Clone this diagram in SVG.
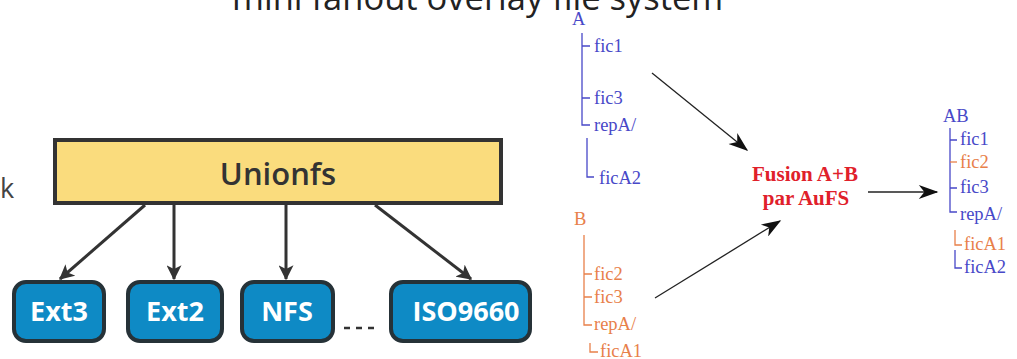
<svg xmlns="http://www.w3.org/2000/svg" width="1017" height="359" viewBox="0 0 1017 359">
<defs>
<style>
.title{font-family:"Open Sans","DejaVu Sans",sans-serif;font-size:34.5px;fill:#222}
.ubox{fill:#FADC7D;stroke:#333;stroke-width:4}
.utxt{font-family:"Open Sans","DejaVu Sans",sans-serif;font-size:31px;font-weight:600;fill:#333;text-anchor:middle}
.fbox{fill:#0E8AC5;stroke:#263238;stroke-width:4}
.ftxt{font-family:"Open Sans","DejaVu Sans",sans-serif;font-size:27px;font-weight:700;fill:#fff;text-anchor:middle}
.conn{stroke:#333;stroke-width:3;fill:none;marker-end:url(#ah)}
.thin{stroke:#222;stroke-width:1.3;fill:none;marker-end:url(#ah2)}
.tb{font-family:"Liberation Serif","Times New Roman",serif;font-size:18.5px;fill:#4848C8}
.to{font-family:"Liberation Serif","Times New Roman",serif;font-size:18.5px;fill:#E8804A}
.lb{stroke:#4848C8;stroke-width:1.3;fill:none}
.lo{stroke:#E8804A;stroke-width:1.3;fill:none}
.fus{font-family:"Liberation Serif","Times New Roman",serif;font-size:21px;font-weight:700;fill:#E0202A;text-anchor:middle}
</style>
<marker id="ah" viewBox="0 0 12 12" refX="11" refY="6" markerWidth="5" markerHeight="5" orient="auto" markerUnits="strokeWidth">
<path d="M0,0 L12,6 L0,12 L3,6 Z" fill="#333"/>
</marker>
<marker id="ah2" viewBox="0 0 14 10" refX="13" refY="5" markerWidth="22" markerHeight="14" orient="auto" markerUnits="userSpaceOnUse">
<path d="M0,0 L14,5 L0,10 L4,5 Z" fill="#111"/>
</marker>
</defs>
<rect width="1017" height="359" fill="#fff"/>
<text class="title" x="232" y="10">mini fanout overlay file system</text>
<text x="0" y="198" style="font-family:'Open Sans','DejaVu Sans',sans-serif;font-size:27px;fill:#444">k</text>

<g id="connectors">
<path class="conn" d="M145,205 L60,279"/>
<path class="conn" d="M174,205 L174,279"/>
<path class="conn" d="M286,205 L286,279"/>
<path class="conn" d="M375,205 L471,279"/>
<path class="thin" d="M652,73 L747,150"/>
<path class="thin" d="M655,298 L780,221"/>
<path class="thin" d="M868,192 L937,192"/>
</g>

<g id="unionfs">
<rect class="ubox" x="55" y="140" width="446" height="63"/>
<text class="utxt" x="278" y="185">Unionfs</text>
</g>
<g id="ext3">
<rect class="fbox" x="14" y="282" width="90" height="59" rx="12"/>
<text class="ftxt" x="59" y="321">Ext3</text>
</g>
<g id="ext2">
<rect class="fbox" x="128" y="282" width="94" height="59" rx="12"/>
<text class="ftxt" x="175" y="321">Ext2</text>
</g>
<g id="nfs">
<rect class="fbox" x="242" y="282" width="91" height="59" rx="12"/>
<text class="ftxt" x="287" y="321">NFS</text>
</g>
<g id="iso9660">
<rect class="fbox" x="391" y="282" width="139" height="59" rx="12"/>
<text class="ftxt" x="466" y="321">ISO9660</text>
</g>
<g id="dots">
<path d="M344,328 h6 M356,328 h6 M368,328 h6" stroke="#333" stroke-width="2.5"/>
</g>

<g id="treeA">
<text class="tb" x="572" y="25">A</text>
<path class="lb" d="M582,33 V125 H590 M582,46 H590 M582,98 H590 M587,138 V177 H594"/>
<text class="tb" x="594" y="52">fic1</text>
<text class="tb" x="594" y="104">fic3</text>
<text class="tb" x="594" y="131">repA/</text>
<text class="tb" x="599" y="184">ficA2</text>
</g>

<g id="treeB">
<text class="to" x="574" y="225">B</text>
<path class="lo" d="M584,235 V325 H592 M584,274 H592 M584,297 H592 M590,343 V352 H598"/>
<text class="to" x="594" y="280">fic2</text>
<text class="to" x="594" y="303">fic3</text>
<text class="to" x="594" y="330">repA/</text>
<text class="to" x="600" y="357">ficA1</text>
</g>

<g id="fusion">
<text class="fus" x="805" y="181">Fusion A+B</text>
<text class="fus" x="806" y="205">par AuFS</text>
</g>

<g id="treeAB">
<text class="tb" x="943" y="122">AB</text>
<path class="lb" d="M950,128 V212 H957 M950,140 H957 M950,188 H957"/>
<path class="lo" d="M950,162 H957"/>
<path class="lo" d="M955,230 V245 H962"/>
<path class="lb" d="M955,250 V268 H962"/>
<text class="tb" x="960" y="145">fic1</text>
<text class="to" x="960" y="168">fic2</text>
<text class="tb" x="960" y="193">fic3</text>
<text class="tb" x="960" y="220">repA/</text>
<text class="to" x="964" y="250">ficA1</text>
<text class="tb" x="964" y="273">ficA2</text>
</g>
</svg>
